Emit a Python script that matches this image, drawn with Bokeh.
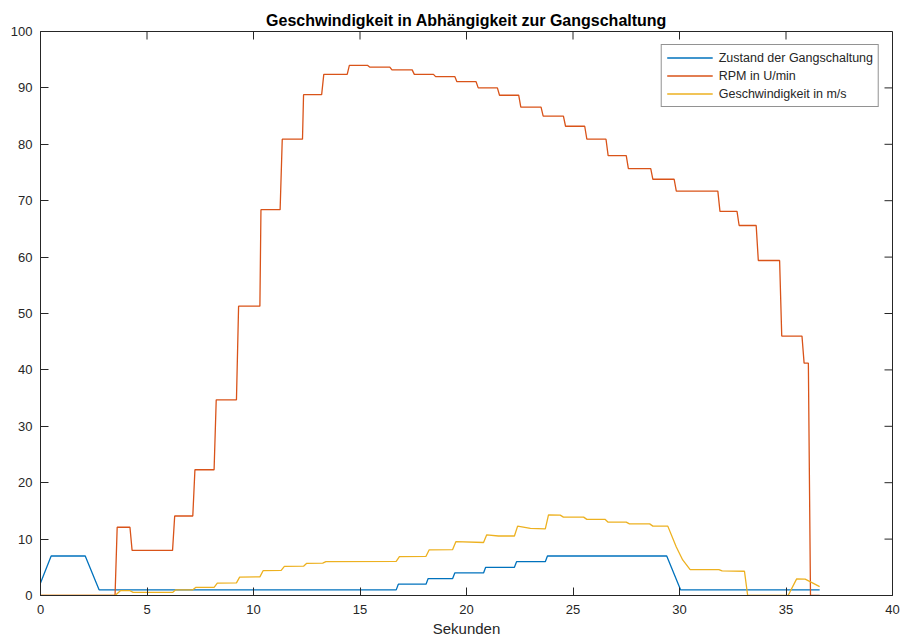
import math
from bokeh.plotting import figure
from bokeh.models import Range1d, FixedTicker
from bokeh.embed import file_html
from bokeh.resources import INLINE

# ---- data ----
gear_t = [0, 0.5, 2.1, 2.75, 16.7, 16.8, 18.1, 18.2, 19.35, 19.45, 20.8, 20.9,
          22.25, 22.35, 23.7, 23.8, 29.4, 30.05, 36.58]
gear_v = [2.2, 7, 7, 1, 1, 2, 2, 3, 3, 4, 4, 5, 5, 6, 6, 7, 7, 1, 1]

rpm_t = [0, 3.5, 3.6, 4.2, 4.3, 6.2, 6.3, 7.15, 7.25, 8.15, 8.25, 9.2, 9.3,
         10.3, 10.35, 11.25, 11.35, 12.3, 12.35, 13.2, 13.3, 14.4, 14.5,
         15.35, 15.45, 16.4, 16.5, 17.45, 17.55, 18.45, 18.55, 19.45, 19.55,
         20.45, 20.55, 21.45, 21.55, 22.45, 22.55, 23.5, 23.6, 24.55, 24.65,
         25.55, 25.65, 26.55, 26.65, 27.5, 27.6, 28.65, 28.75, 29.75, 29.85,
         31.8, 31.9, 32.7, 32.8, 33.6, 33.7, 34.7, 34.8, 35.75, 35.85, 36.05,
         36.15, 36.58]
rpm_v = [0, 0, 12.1, 12.1, 8.0, 8.0, 14.1, 14.1, 22.3, 22.3, 34.7, 34.7, 51.3,
         51.3, 68.4, 68.4, 80.9, 80.9, 88.8, 88.8, 92.4, 92.4, 94.0,
         94.0, 93.7, 93.7, 93.2, 93.2, 92.4, 92.4, 92.0, 92.0, 91.1,
         91.1, 90.0, 90.0, 88.7, 88.7, 86.6, 86.6, 85.0, 85.0, 83.2,
         83.2, 80.9, 80.9, 78.0, 78.0, 75.7, 75.7, 73.8, 73.8, 71.7,
         71.7, 68.1, 68.1, 65.6, 65.6, 59.4, 59.4, 46.0, 46.0, 41.2, 41.2,
         0, 0]

speed_t = [0, 3.5, 3.75, 4.2, 4.35, 6.2, 6.35, 7.15, 7.3, 8.15, 8.3, 9.2, 9.35,
           10.3, 10.45, 11.3, 11.45, 12.35, 12.5, 13.25, 13.4, 16.7, 16.85,
           18.1, 18.25, 19.35, 19.5, 20.8, 20.95, 21.5, 22.25, 22.4, 23.0,
           23.7, 23.85, 24.4, 24.55, 25.5, 25.65, 26.5, 26.65, 27.5, 27.65,
           28.6, 28.75, 29.45, 29.85, 30.15, 30.5, 31.85, 32.0, 33.05, 33.2,
           35.1, 35.5, 35.9, 36.58]
speed_v = [0, 0, 0.85, 0.85, 0.55, 0.55, 1.0, 1.0, 1.45, 1.45, 2.2, 2.25, 3.25,
           3.3, 4.4, 4.45, 5.15, 5.2, 5.7, 5.75, 6.0, 6.05, 6.9,
           6.95, 8.1, 8.15, 9.55, 9.4, 10.75, 10.55, 10.55, 12.3, 11.9,
           11.8, 14.3, 14.25, 13.9, 13.9, 13.5, 13.5, 13.0, 13.0, 12.7,
           12.7, 12.3, 12.3, 8.6, 6.3, 4.6, 4.6, 4.35, 4.3, 0.0,
           0.0, 2.95, 2.9, 1.57]

x_ticks = [0, 5, 10, 15, 20, 25, 30, 35, 40]
y_ticks = [0, 10, 20, 30, 40, 50, 60, 70, 80, 90, 100]

series_names = ["Zustand der Gangschaltung", "RPM in U/min", "Geschwindigkeit in m/s"]
series_colors = ["#0072BD", "#D95319", "#EDB120"]

AX = "#262626"
FONT = "Liberation Sans"
TICK_LEN = 8

x_lo, x_hi = x_ticks[0], x_ticks[-1]
y_lo, y_hi = y_ticks[0], y_ticks[-1]

p = figure(width=901, height=639, x_range=Range1d(x_lo, x_hi), y_range=Range1d(y_lo, y_hi),
           output_backend="svg", toolbar_location=None,
           min_border_left=40, min_border_right=9, min_border_top=31, min_border_bottom=43,
           title="Geschwindigkeit in Abhängigkeit zur Gangschaltung")

p.title.align = "center"
p.title.text_font = FONT
p.title.text_font_size = "16px"
p.title.text_font_style = "bold"
p.title.text_color = "#000000"
p.title.standoff = 5

p.background_fill_color = "white"
p.border_fill_color = "white"
p.outline_line_color = AX
p.outline_line_width = 1
p.grid.visible = False

for ax in p.xaxis:
    ax.ticker = FixedTicker(ticks=x_ticks)
    ax.axis_label = "Sekunden"
    ax.axis_label_text_font = FONT
    ax.axis_label_text_font_size = "15px"
    ax.axis_label_text_font_style = "normal"
    ax.axis_label_text_color = AX
    ax.axis_label_standoff = 3
    ax.major_label_standoff = 9
for ax in p.yaxis:
    ax.ticker = FixedTicker(ticks=y_ticks)
    ax.major_label_standoff = 8

for ax in p.axis:
    ax.axis_line_color = AX
    ax.major_tick_line_color = AX
    ax.major_tick_in = TICK_LEN
    ax.major_tick_out = 0
    ax.minor_tick_line_color = None
    ax.major_label_text_font = FONT
    ax.major_label_text_font_size = "13px"
    ax.major_label_text_color = AX

# mirrored (box) ticks on the top and right edges, pointing inward
p.ray(x=x_ticks, y=[y_hi] * len(x_ticks), length=TICK_LEN, length_units="screen",
      angle=-math.pi / 2, line_color=AX, line_width=1)
p.ray(x=[x_hi] * len(y_ticks), y=y_ticks, length=TICK_LEN, length_units="screen",
      angle=math.pi, line_color=AX, line_width=1)

series = [(gear_t, gear_v), (rpm_t, rpm_v), (speed_t, speed_v)]
for (t, v), name, col in zip(series, series_names, series_colors):
    p.line(t, v, line_color=col, line_width=1.3, legend_label=name)

lg = p.legend[0]
lg.location = "top_right"
lg.margin = 13
lg.padding = 5
lg.spacing = 3
lg.glyph_width = 46
lg.glyph_height = 15
lg.label_height = 15
lg.label_standoff = 6
lg.label_text_font = FONT
lg.label_text_font_size = "12.5px"
lg.label_text_color = AX
lg.border_line_color = AX
lg.border_line_width = 1
lg.background_fill_color = "white"
lg.background_fill_alpha = 1.0

open("out.html", "w").write(file_html(p, INLINE))
